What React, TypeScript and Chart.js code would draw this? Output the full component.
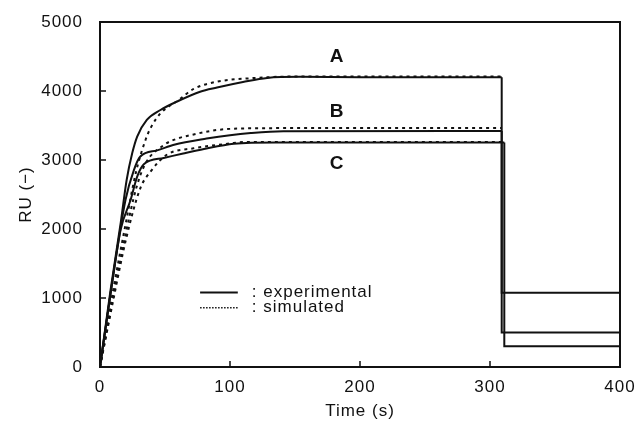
import React, { useEffect, useRef } from "react";
import { Chart, registerables } from "chart.js";

Chart.register(...registerables);

// ---- data (time in s, response in RU) ----
// association phase
const tA_exp = [0, 8, 16, 20.5, 24.8, 28.6, 36, 46.5, 59, 77, 90, 110, 128.6, 154, 200, 309];
const ruA_exp = [0, 1100, 2100, 2710, 3100, 3340, 3580, 3725, 3845, 3990, 4050, 4130, 4190, 4205, 4200, 4200];
const tA_sim = [0, 10, 20, 28, 35, 38.8, 46.5, 60.6, 72, 90, 116, 150, 309];
const ruA_sim = [0, 1100, 2100, 2850, 3290, 3460, 3675, 3870, 4030, 4135, 4185, 4210, 4210];

const tB_exp = [0, 8, 19.6, 26, 31, 44, 57, 82, 100, 116, 141, 309];
const ruB_exp = [0, 1050, 2420, 2850, 3050, 3140, 3220, 3310, 3360, 3390, 3415, 3420];
const tB_sim = [0, 10, 20, 28, 35, 49, 59.4, 69.6, 90, 121, 200, 309];
const ruB_sim = [0, 1000, 1950, 2600, 2950, 3215, 3310, 3360, 3435, 3460, 3465, 3465];

const tC_exp = [0, 8, 16, 23.5, 28.6, 33.7, 49, 64, 80, 103, 135, 200, 311];
const ruC_exp = [0, 1050, 2000, 2420, 2760, 2940, 3030, 3095, 3160, 3235, 3255, 3255, 3255];
const tC_sim = [0, 10, 20, 31, 38.8, 51.7, 72, 100, 110, 150, 309];
const ruC_sim = [0, 950, 1850, 2590, 2830, 3080, 3170, 3240, 3260, 3262, 3262];

// dissociation phase (experimental)
const tA_off = [309, 309, 400];
const ruA_off = [4200, 1075, 1075];
const tB_off = [309, 309, 400];
const ruB_off = [3420, 500, 500];
const tC_off = [311, 311, 400];
const ruC_off = [3255, 300, 300];

const curveLabels = ["A", "B", "C"];
const curveLabelPos = [
  [182, 4490],
  [182, 3700],
  [182, 2950],
];
const legendLabels = [": experimental", ": simulated"];
const xTicks = [0, 100, 200, 300, 400];
const yTicks = [0, 1000, 2000, 3000, 4000, 5000];

const FONT = "'Liberation Sans', Arial, Helvetica, sans-serif";
const INK = "#111";

const pts = (t: number[], v: number[]) => t.map((x, i) => ({ x, y: v[i] }));

const solid = (label: string, t: number[], v: number[]) => ({
  label,
  data: pts(t, v),
  showLine: true,
  borderColor: INK,
  borderWidth: 2,
  pointRadius: 0,
  cubicInterpolationMode: "monotone",
  fill: false,
});
const dotted = (label: string, t: number[], v: number[]) => ({
  ...solid(label, t, v),
  borderDash: [3, 4],
});
const step = (label: string, t: number[], v: number[]) => ({
  label,
  data: pts(t, v),
  showLine: true,
  borderColor: INK,
  borderWidth: 2,
  pointRadius: 0,
  tension: 0,
  fill: false,
});

const spacing = {
  id: "spacing",
  beforeUpdate(chart: any) {
    chart.ctx.letterSpacing = "1px";
  },
  beforeDraw(chart: any) {
    chart.ctx.letterSpacing = "1px";
  },
};

const decor = {
  id: "decor",
  afterDraw(chart: any) {
    const { ctx, chartArea: a, scales } = chart;
    const xs = scales.x;
    const ys = scales.y;
    ctx.save();
    ctx.strokeStyle = INK;
    ctx.lineWidth = 2;
    ctx.strokeRect(a.left, a.top, a.right - a.left, a.bottom - a.top);
    ctx.lineWidth = 1.5;
    ctx.beginPath();
    for (const v of xTicks.slice(1, -1)) {
      const px = xs.getPixelForValue(v);
      ctx.moveTo(px, a.bottom);
      ctx.lineTo(px, a.bottom - 6);
    }
    for (const v of yTicks.slice(1, -1)) {
      const py = ys.getPixelForValue(v);
      ctx.moveTo(a.left, py);
      ctx.lineTo(a.left + 6, py);
    }
    ctx.stroke();

    // curve labels
    ctx.fillStyle = INK;
    ctx.letterSpacing = "0px";
    ctx.font = `bold 19px ${FONT}`;
    ctx.textAlign = "center";
    ctx.textBaseline = "middle";
    curveLabels.forEach((l, i) => {
      ctx.fillText(l, xs.getPixelForValue(curveLabelPos[i][0]), ys.getPixelForValue(curveLabelPos[i][1]));
    });

    // legend
    const lx0 = xs.getPixelForValue(77);
    const lx1 = xs.getPixelForValue(106);
    const ly0 = ys.getPixelForValue(1080);
    const ly1 = ys.getPixelForValue(860);
    ctx.lineWidth = 2;
    ctx.beginPath();
    ctx.moveTo(lx0, ly0);
    ctx.lineTo(lx1, ly0);
    ctx.stroke();
    ctx.setLineDash([1.5, 1.5]);
    ctx.lineWidth = 1.5;
    ctx.beginPath();
    ctx.moveTo(lx0, ly1);
    ctx.lineTo(lx1, ly1);
    ctx.stroke();
    ctx.setLineDash([]);
    ctx.letterSpacing = "1px";
    ctx.font = `17px ${FONT}`;
    ctx.textAlign = "left";
    ctx.fillText(legendLabels[0], lx1 + 14, ly0);
    ctx.fillText(legendLabels[1], lx1 + 14, ly1);
    ctx.restore();
  },
};

export default function App() {
  const ref = useRef<HTMLCanvasElement>(null);
  useEffect(() => {
    if (!ref.current) return;
    const chart = new Chart(ref.current, {
      type: "scatter",
      data: {
        datasets: [
          solid("A experimental", tA_exp, ruA_exp),
          dotted("A simulated", tA_sim, ruA_sim),
          step("A dissociation", tA_off, ruA_off),
          solid("B experimental", tB_exp, ruB_exp),
          dotted("B simulated", tB_sim, ruB_sim),
          step("B dissociation", tB_off, ruB_off),
          solid("C experimental", tC_exp, ruC_exp),
          dotted("C simulated", tC_sim, ruC_sim),
          step("C dissociation", tC_off, ruC_off),
        ] as any,
      },
      options: {
        animation: false,
        responsive: false,
        layout: { padding: { top: 22, right: 18, left: 0, bottom: 0 } },
        plugins: { legend: { display: false }, tooltip: { enabled: false } },
        scales: {
          x: {
            type: "linear",
            min: 0,
            max: 400,
            afterBuildTicks: (s: any) => {
              s.ticks = xTicks.map((v) => ({ value: v }));
            },
            afterFit: (s: any) => {
              s.height = 63;
              s.paddingLeft = 0;
              s.paddingRight = 0;
            },
            grid: { display: false, drawTicks: false },
            border: { display: false },
            ticks: {
              color: INK,
              font: { family: FONT, size: 17 },
              padding: 10,
              maxRotation: 0,
              callback: (v: any) => String(v),
            },
            title: {
              display: true,
              text: "Time (s)",
              color: INK,
              font: { family: FONT, size: 17 },
              padding: { top: 0, bottom: 8 },
            },
          },
          y: {
            type: "linear",
            min: 0,
            max: 5000,
            afterBuildTicks: (s: any) => {
              s.ticks = yTicks.map((v) => ({ value: v }));
            },
            afterFit: (s: any) => {
              s.width = 100;
              s.paddingTop = 0;
              s.paddingBottom = 0;
            },
            grid: { display: false, drawTicks: false },
            border: { display: false },
            ticks: {
              color: INK,
              font: { family: FONT, size: 17 },
              padding: 17,
              callback: (v: any) => String(v),
            },
            title: {
              display: true,
              text: "RU (\u2212)",
              color: INK,
              font: { family: FONT, size: 17 },
              padding: { top: 16, bottom: 0 },
            },
          },
        },
      },
      plugins: [spacing, decor],
    });
    return () => chart.destroy();
  }, []);
  return (
    <div style={{ position: "absolute", left: 0, top: 0, width: 638, height: 430, background: "#fff" }}>
      <canvas ref={ref} width={638} height={430} />
    </div>
  );
}
